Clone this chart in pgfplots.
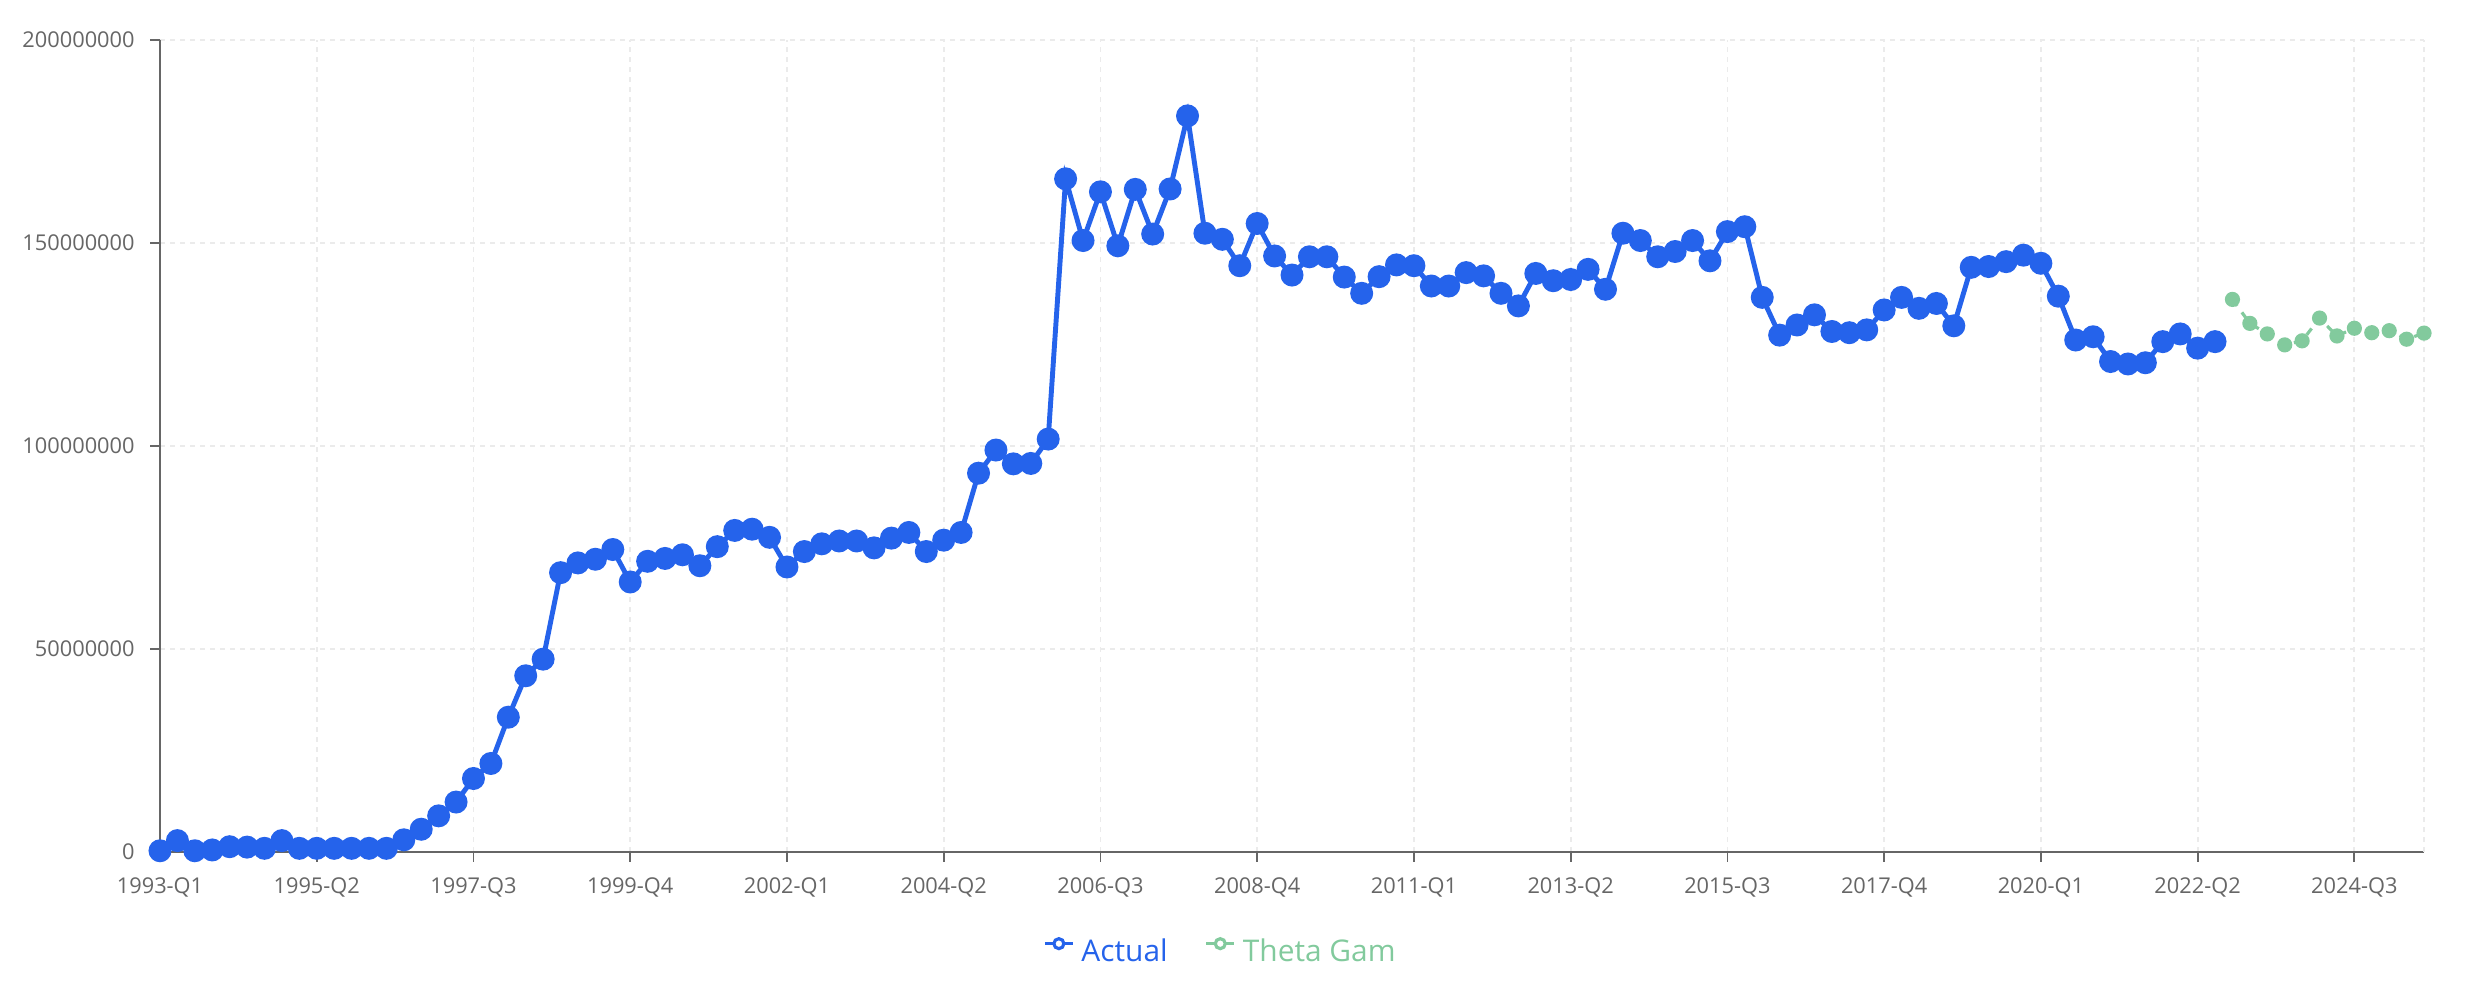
\documentclass[border=0pt]{standalone}
\usepackage{fontspec}
\setmainfont{Open Sans}
\usepackage{pgfplots}
\pgfplotsset{compat=1.18}

\definecolor{actual}{HTML}{2563EB}
\definecolor{theta}{HTML}{82CA9D}
\definecolor{axisgray}{HTML}{666666}
\definecolor{gridgray}{HTML}{EBEBEB}

% quarter index (0 = 1993-Q1), value
\pgfplotstableread{
q v
0 300000
1 2800000
2 300000
3 500000
4 1300000
5 1200000
6 900000
7 2800000
8 900000
9 900000
10 900000
11 900000
12 900000
13 900000
14 3000000
15 5600000
16 8900000
17 12300000
18 18100000
19 21800000
20 33200000
21 43400000
22 47500000
23 68800000
24 71200000
25 72100000
26 74500000
27 66500000
28 71600000
29 72300000
30 73200000
31 70500000
32 75200000
33 79200000
34 79500000
35 77500000
36 70200000
37 74000000
38 75900000
39 76600000
40 76600000
41 74900000
42 77300000
43 78700000
44 74000000
45 76800000
46 78700000
47 93300000
48 99000000
49 95600000
50 95700000
51 101700000
52 165800000
53 150600000
54 162600000
55 149300000
56 163200000
57 152200000
58 163300000
59 181300000
60 152400000
61 150900000
62 144400000
63 154800000
64 146800000
65 142100000
66 146600000
67 146600000
68 141600000
69 137600000
70 141700000
71 144600000
72 144400000
73 139400000
74 139400000
75 142700000
76 141900000
77 137600000
78 134500000
79 142500000
80 140700000
81 141000000
82 143500000
83 138600000
84 152400000
85 150600000
86 146600000
87 147900000
88 150600000
89 145600000
90 152800000
91 154000000
92 136600000
93 127300000
94 129800000
95 132300000
96 128200000
97 127900000
98 128600000
99 133500000
100 136600000
101 133900000
102 135100000
103 129600000
104 144000000
105 144200000
106 145400000
107 147000000
108 145000000
109 136900000
110 126100000
111 126900000
112 120800000
113 120200000
114 120500000
115 125700000
116 127600000
117 124100000
118 125700000
}\actualdata

\pgfplotstableread{
q v
119 136100000
120 130200000
121 127600000
122 124900000
123 125900000
124 131500000
125 127100000
126 129000000
127 127900000
128 128400000
129 126300000
130 127800000
}\thetadata

\begin{document}
\begin{tikzpicture}
\useasboundingbox (0,0) rectangle (248.6mm,100mm);
\begin{axis}[
  at={(16mm,14.8mm)}, anchor=south west,
  scale only axis, width=226.4mm, height=81.2mm,
  xmin=0, xmax=130, ymin=0, ymax=200000000,
  axis x line*=bottom, axis y line*=left,
  axis line style={axisgray, line width=0.5pt, -},
  xtick={0,9,...,126},
  xticklabels={1993-Q1,1995-Q2,1997-Q3,1999-Q4,2002-Q1,2004-Q2,2006-Q3,2008-Q4,2011-Q1,2013-Q2,2015-Q3,2017-Q4,2020-Q1,2022-Q2,2024-Q3},
  ytick={0,50000000,100000000,150000000,200000000},
  yticklabels={0,50000000,100000000,150000000,200000000},
  scaled y ticks=false,
  tick align=outside, major tick length=1mm,
  tick style={axisgray, line width=0.5pt},
  tick label style={font=\fontsize{6.2}{7}\selectfont, text=axisgray},
  xticklabel style={yshift=-0.3mm},
  yticklabel style={xshift=-0.3mm},
  grid=major,
  major grid style={gridgray, line width=0.5pt, dash pattern=on 0.5mm off 0.5mm},
  clip=false,
  legend style={at={(0.4695,-0.124)}, anchor=center, draw=none, fill=none,
    legend columns=2, font=\fontsize{8.5}{10}\selectfont,
    /tikz/every even column/.append style={column sep=3mm}},
]
\draw[gridgray, line width=0.5pt, dash pattern=on 0.5mm off 0.5mm] (axis cs:130,0) -- (axis cs:130,200000000);

\addplot[actual, line width=1.4pt, mark=*, mark size=0.9mm,
  mark options={fill=actual, draw=actual},
  legend image code/.code={
    \draw[actual, solid, line width=0.9pt] (0mm,0.9mm) -- (2.8mm,0.9mm);
    \draw[actual, solid, line width=0.9pt, fill=white] (1.4mm,0.9mm) circle (0.5mm);}]
  table[x=q, y=v] {\actualdata};
\addlegendentry{\textcolor{actual}{Actual}}

\addplot[theta, line width=0.9pt, dash pattern=on 0.8mm off 0.8mm, mark=*, mark size=0.6mm,
  mark options={solid, fill=theta, draw=theta},
  legend image code/.code={
    \draw[theta, solid, line width=0.9pt] (0mm,0.9mm) -- (2.8mm,0.9mm);
    \draw[theta, solid, line width=0.9pt, fill=white] (1.4mm,0.9mm) circle (0.5mm);}]
  table[x=q, y=v] {\thetadata};
\addlegendentry{\textcolor{theta}{Theta Gam}}
\end{axis}
\end{tikzpicture}
\end{document}
